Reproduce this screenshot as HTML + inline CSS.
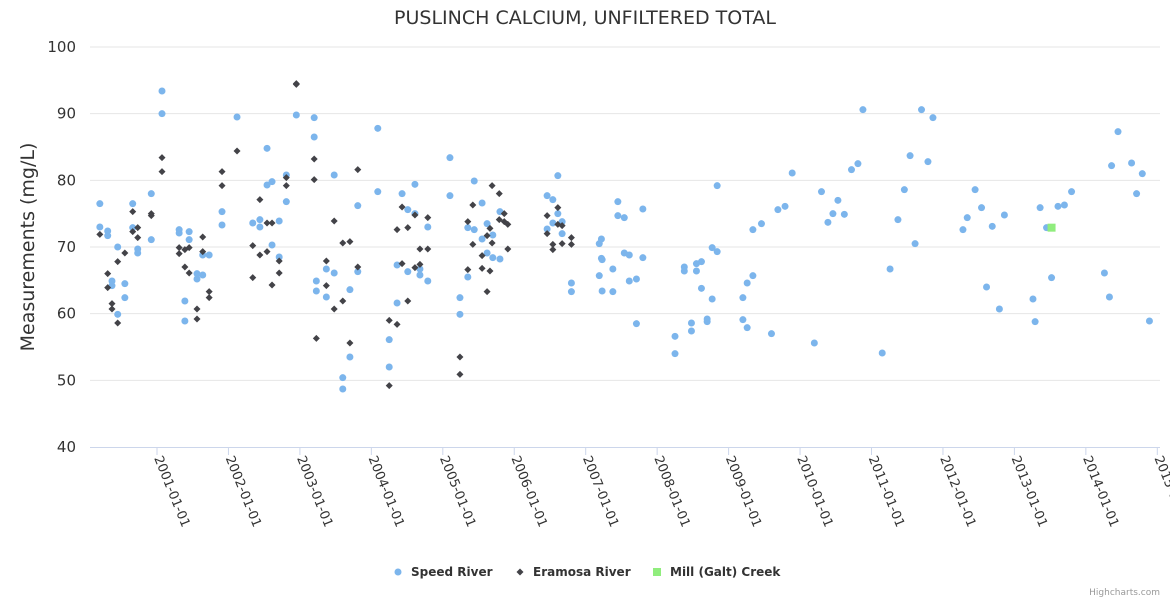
<!DOCTYPE html>
<html><head><meta charset="utf-8"><style>
html,body{margin:0;padding:0;background:#fff;}
svg{display:block;font-family:"DejaVu Sans","Liberation Sans",sans-serif;}
</style></head><body>
<svg id="chart" width="1170" height="600" viewBox="0 0 1170 600" xmlns="http://www.w3.org/2000/svg">
<text x="585" y="24" text-anchor="middle" font-size="19" fill="#333">PUSLINCH CALCIUM, UNFILTERED TOTAL</text>
<text transform="translate(34,247) rotate(-90)" text-anchor="middle" font-size="19" fill="#333">Measurements (mg/L)</text>
<g id="grid"></g><g id="xaxis"></g><g id="marks"></g>
<g font-size="12" font-weight="bold" fill="#333">
<g><circle cx="398" cy="572" r="3.5" fill="#7cb5ec"/><text x="411" y="576">Speed River</text></g>
<g><path d="M520 568.5 L523.5 572 L520 575.5 L516.5 572Z" fill="#434348"/><text x="533" y="576">Eramosa River</text></g>
<g><rect x="653" y="568" width="8" height="8" fill="#90ed7d"/><text x="670" y="576">Mill (Galt) Creek</text></g>
</g>
<text x="1160" y="595" text-anchor="end" font-size="9" fill="#999">Highcharts.com</text>
</svg>
<script>
const yTicks=[40,50,60,70,80,90,100];
const xTickYears=[2001,2002,2003,2004,2005,2006,2007,2008,2009,2010,2011,2012,2013,2014,2015];
const speedDates=[2000.20,2000.20,2000.31,2000.31,2000.37,2000.37,2000.45,2000.45,2000.55,2000.55,2000.66,2000.66,2000.73,2000.73,2000.92,2000.92,2001.07,2001.07,2001.31,2001.31,2001.39,2001.39,2001.45,2001.45,2001.56,2001.56,2001.64,2001.64,2001.73,2001.91,2001.91,2002.12,2002.34,2002.44,2002.44,2002.54,2002.54,2002.61,2002.61,2002.71,2002.71,2002.81,2002.81,2002.95,2003.20,2003.20,2003.23,2003.23,2003.37,2003.37,2003.48,2003.48,2003.60,2003.60,2003.70,2003.70,2003.81,2003.81,
2004.09,2004.09,2004.25,2004.25,2004.36,2004.36,2004.43,2004.51,2004.51,2004.61,2004.61,2004.68,2004.68,2004.79,2004.79,2005.10,2005.10,2005.24,2005.24,2005.35,2005.35,2005.44,2005.44,2005.55,2005.55,2005.62,2005.62,2005.70,2005.70,2005.80,2005.80,2006.46,2006.46,2006.54,2006.54,2006.61,2006.61,2006.67,2006.67,2006.80,2006.80,
2007.19,2007.22,2007.22,2007.23,2007.19,2007.23,2007.38,2007.38,2007.45,2007.45,2007.54,2007.54,2007.61,2007.61,2007.71,2007.71,2007.80,2007.80,2008.25,2008.25,2008.38,2008.38,2008.48,2008.48,2008.55,2008.55,2008.62,2008.62,2008.70,2008.70,2008.77,2008.77,2008.84,2008.84,2009.20,2009.20,2009.26,2009.26,2009.34,2009.34,2009.46,2009.60,2009.69,2009.79,2009.89,2010.20,2010.30,2010.39,2010.46,2010.53,2010.62,2010.72,2010.81,2010.88,
2011.15,2011.26,2011.37,2011.46,2011.54,2011.61,2011.70,2011.79,2011.86,2012.28,2012.34,2012.45,2012.54,2012.61,2012.69,2012.79,2012.86,2013.26,2013.29,2013.36,2013.45,2013.52,2013.61,2013.70,2013.80,2014.26,2014.33,2014.36,2014.45,2014.64,2014.71,2014.79,2014.89];
const speedValues=[76.5,73.0,72.4,71.7,64.9,64.2,70.0,59.9,64.5,62.4,76.5,72.9,69.7,69.1,78.0,71.1,93.4,90.0,72.6,72.1,61.9,58.9,72.3,71.1,66.0,65.2,65.8,68.8,68.8,75.3,73.3,89.5,73.6,74.1,73.0,79.3,84.8,79.8,70.3,73.9,68.5,80.8,76.8,89.8,89.4,86.5,64.9,63.4,66.7,62.5,80.8,66.1,50.4,48.7,63.6,53.5,76.2,66.3,
87.8,78.3,56.1,52.0,67.3,61.6,78.0,75.6,66.3,79.4,75.0,66.7,65.8,73.0,64.9,83.4,77.7,62.4,59.9,72.9,65.5,79.9,72.6,76.6,71.2,73.5,69.1,71.8,68.4,75.3,68.2,77.7,72.7,77.1,73.6,80.7,75.0,73.8,72.0,64.6,63.3,
70.5,71.2,68.3,68.1,65.7,63.4,66.7,63.3,76.8,74.7,74.4,69.1,68.8,64.9,65.2,58.5,75.7,68.4,56.6,54.0,67.0,66.4,58.6,57.4,67.5,66.4,67.8,63.8,59.2,58.8,69.9,62.2,79.2,69.3,62.4,59.1,64.6,57.9,72.6,65.7,73.5,57.0,75.6,76.1,81.1,55.6,78.3,73.7,75.0,77.0,74.9,81.6,82.5,90.6,
54.1,66.7,74.1,78.6,83.7,70.5,90.6,82.8,89.4,72.6,74.4,78.6,75.9,64.0,73.1,60.7,74.8,62.2,58.8,75.9,72.9,65.4,76.1,76.3,78.3,66.1,62.5,82.2,87.3,82.6,78.0,81.0,58.9];
const eramosaDates=[2000.20,2000.31,2000.31,2000.37,2000.37,2000.45,2000.45,2000.55,2000.66,2000.66,2000.73,2000.73,2000.92,2000.92,2001.07,2001.07,2001.31,2001.31,2001.39,2001.39,2001.45,2001.45,2001.56,2001.56,2001.64,2001.64,2001.73,2001.73,2001.91,2001.91,2002.12,2002.34,2002.34,2002.44,2002.44,2002.54,2002.54,2002.61,2002.61,2002.71,2002.71,2002.81,2002.81,2002.95,2002.95,2003.20,2003.20,2003.23,2003.37,2003.37,2003.48,2003.48,2003.60,2003.60,2003.70,2003.70,2003.81,2003.81,
2004.36,2004.36,2004.25,2004.25,2004.43,2004.43,2004.51,2004.51,2004.61,2004.61,2004.68,2004.68,2004.79,2004.79,2005.24,2005.24,2005.35,2005.35,2005.42,2005.42,2005.55,2005.55,2005.62,2005.62,2005.66,2005.66,2005.69,2005.69,2005.79,2005.79,2005.86,2005.86,2005.91,2005.91,2006.46,2006.46,2006.54,2006.54,2006.61,2006.61,2006.67,2006.67,2006.80,2006.80];
const eramosaValues=[71.9,66.0,63.9,61.5,60.7,67.8,58.6,69.1,75.3,72.3,72.9,71.4,75.0,74.7,83.4,81.3,69.9,69.0,69.6,67.0,69.9,66.1,60.7,59.2,71.5,69.3,63.3,62.4,81.3,79.2,84.4,70.2,65.4,77.1,68.8,73.6,69.3,73.6,64.3,67.9,66.1,80.4,79.2,94.5,94.4,83.2,80.1,56.3,67.9,64.2,73.9,60.7,70.6,61.9,70.8,55.6,81.6,67.0,
72.6,58.4,59.0,49.2,76.0,67.5,72.9,61.9,74.8,66.9,69.7,67.4,74.4,69.7,53.5,50.9,73.8,66.6,76.3,70.4,68.7,66.8,71.7,63.3,72.8,66.4,79.2,70.6,78.0,74.1,75.0,73.8,73.4,69.7,74.7,72.0,70.4,69.6,75.9,73.4,73.2,70.5,71.4,70.4];
const millDates=[2013.52];
const millValues=[72.9];

const NS="http://www.w3.org/2000/svg";
const X0=157, PXY=71.45, YTOP=47, YBOT=447, YMIN=40, YMAX=100, XL=90, XR=1160;
function xScale(t){return X0+(t-2001)*PXY;}
function yScale(v){return YBOT-(v-YMIN)/(YMAX-YMIN)*(YBOT-YTOP);}
function mk(tag,attrs,parent){const e=document.createElementNS(NS,tag);for(const k in attrs)e.setAttribute(k,attrs[k]);parent.appendChild(e);return e;}
const grid=document.getElementById('grid'),xa=document.getElementById('xaxis'),marks=document.getElementById('marks');
yTicks.forEach(v=>{
  const y=yScale(v);
  if(v>YMIN){const l=mk('line',{x1:XL,x2:XR,y1:y,y2:y,stroke:'#e6e6e6'},grid);
  
  }
  const t=mk('text',{x:76,y:y+5,'text-anchor':'end','font-size':15,fill:'#333'},grid);
  t.textContent=v;
  
  
});
const axl=mk('line',{x1:XL,x2:XR,y1:YBOT+0.5,y2:YBOT+0.5,stroke:'#ccd6eb'},xa);


xTickYears.forEach(yr=>{
  const x=xScale(yr);
  const tk=mk('line',{x1:x,x2:x,y1:YBOT,y2:YBOT+8,stroke:'#ccd6eb'},xa);
  
  
  const t=mk('text',{x:0,y:0,'font-size':13,fill:'#333',transform:'translate('+(x-3)+','+(YBOT+11)+') rotate(68)'},xa);
  t.textContent=yr+'-01-01';
  
  
});
speedDates.forEach((d,i)=>{
  const c=mk('circle',{cx:xScale(d),cy:yScale(speedValues[i]),r:3.5,fill:'#7cb5ec'},marks);
  
  
});
eramosaDates.forEach((d,i)=>{
  const x=xScale(d),y=yScale(eramosaValues[i]);
  const p=mk('path',{d:'M'+x+' '+(y-3.5)+'L'+(x+3.5)+' '+y+'L'+x+' '+(y+3.5)+'L'+(x-3.5)+' '+y+'Z',fill:'#434348'},marks);
  
  
});
millDates.forEach((d,i)=>{
  const x=xScale(d),y=yScale(millValues[i]);
  const r=mk('rect',{x:x-4,y:y-4,width:8,height:8,fill:'#90ed7d'},marks);
  
  
});
</script>
</body></html>
